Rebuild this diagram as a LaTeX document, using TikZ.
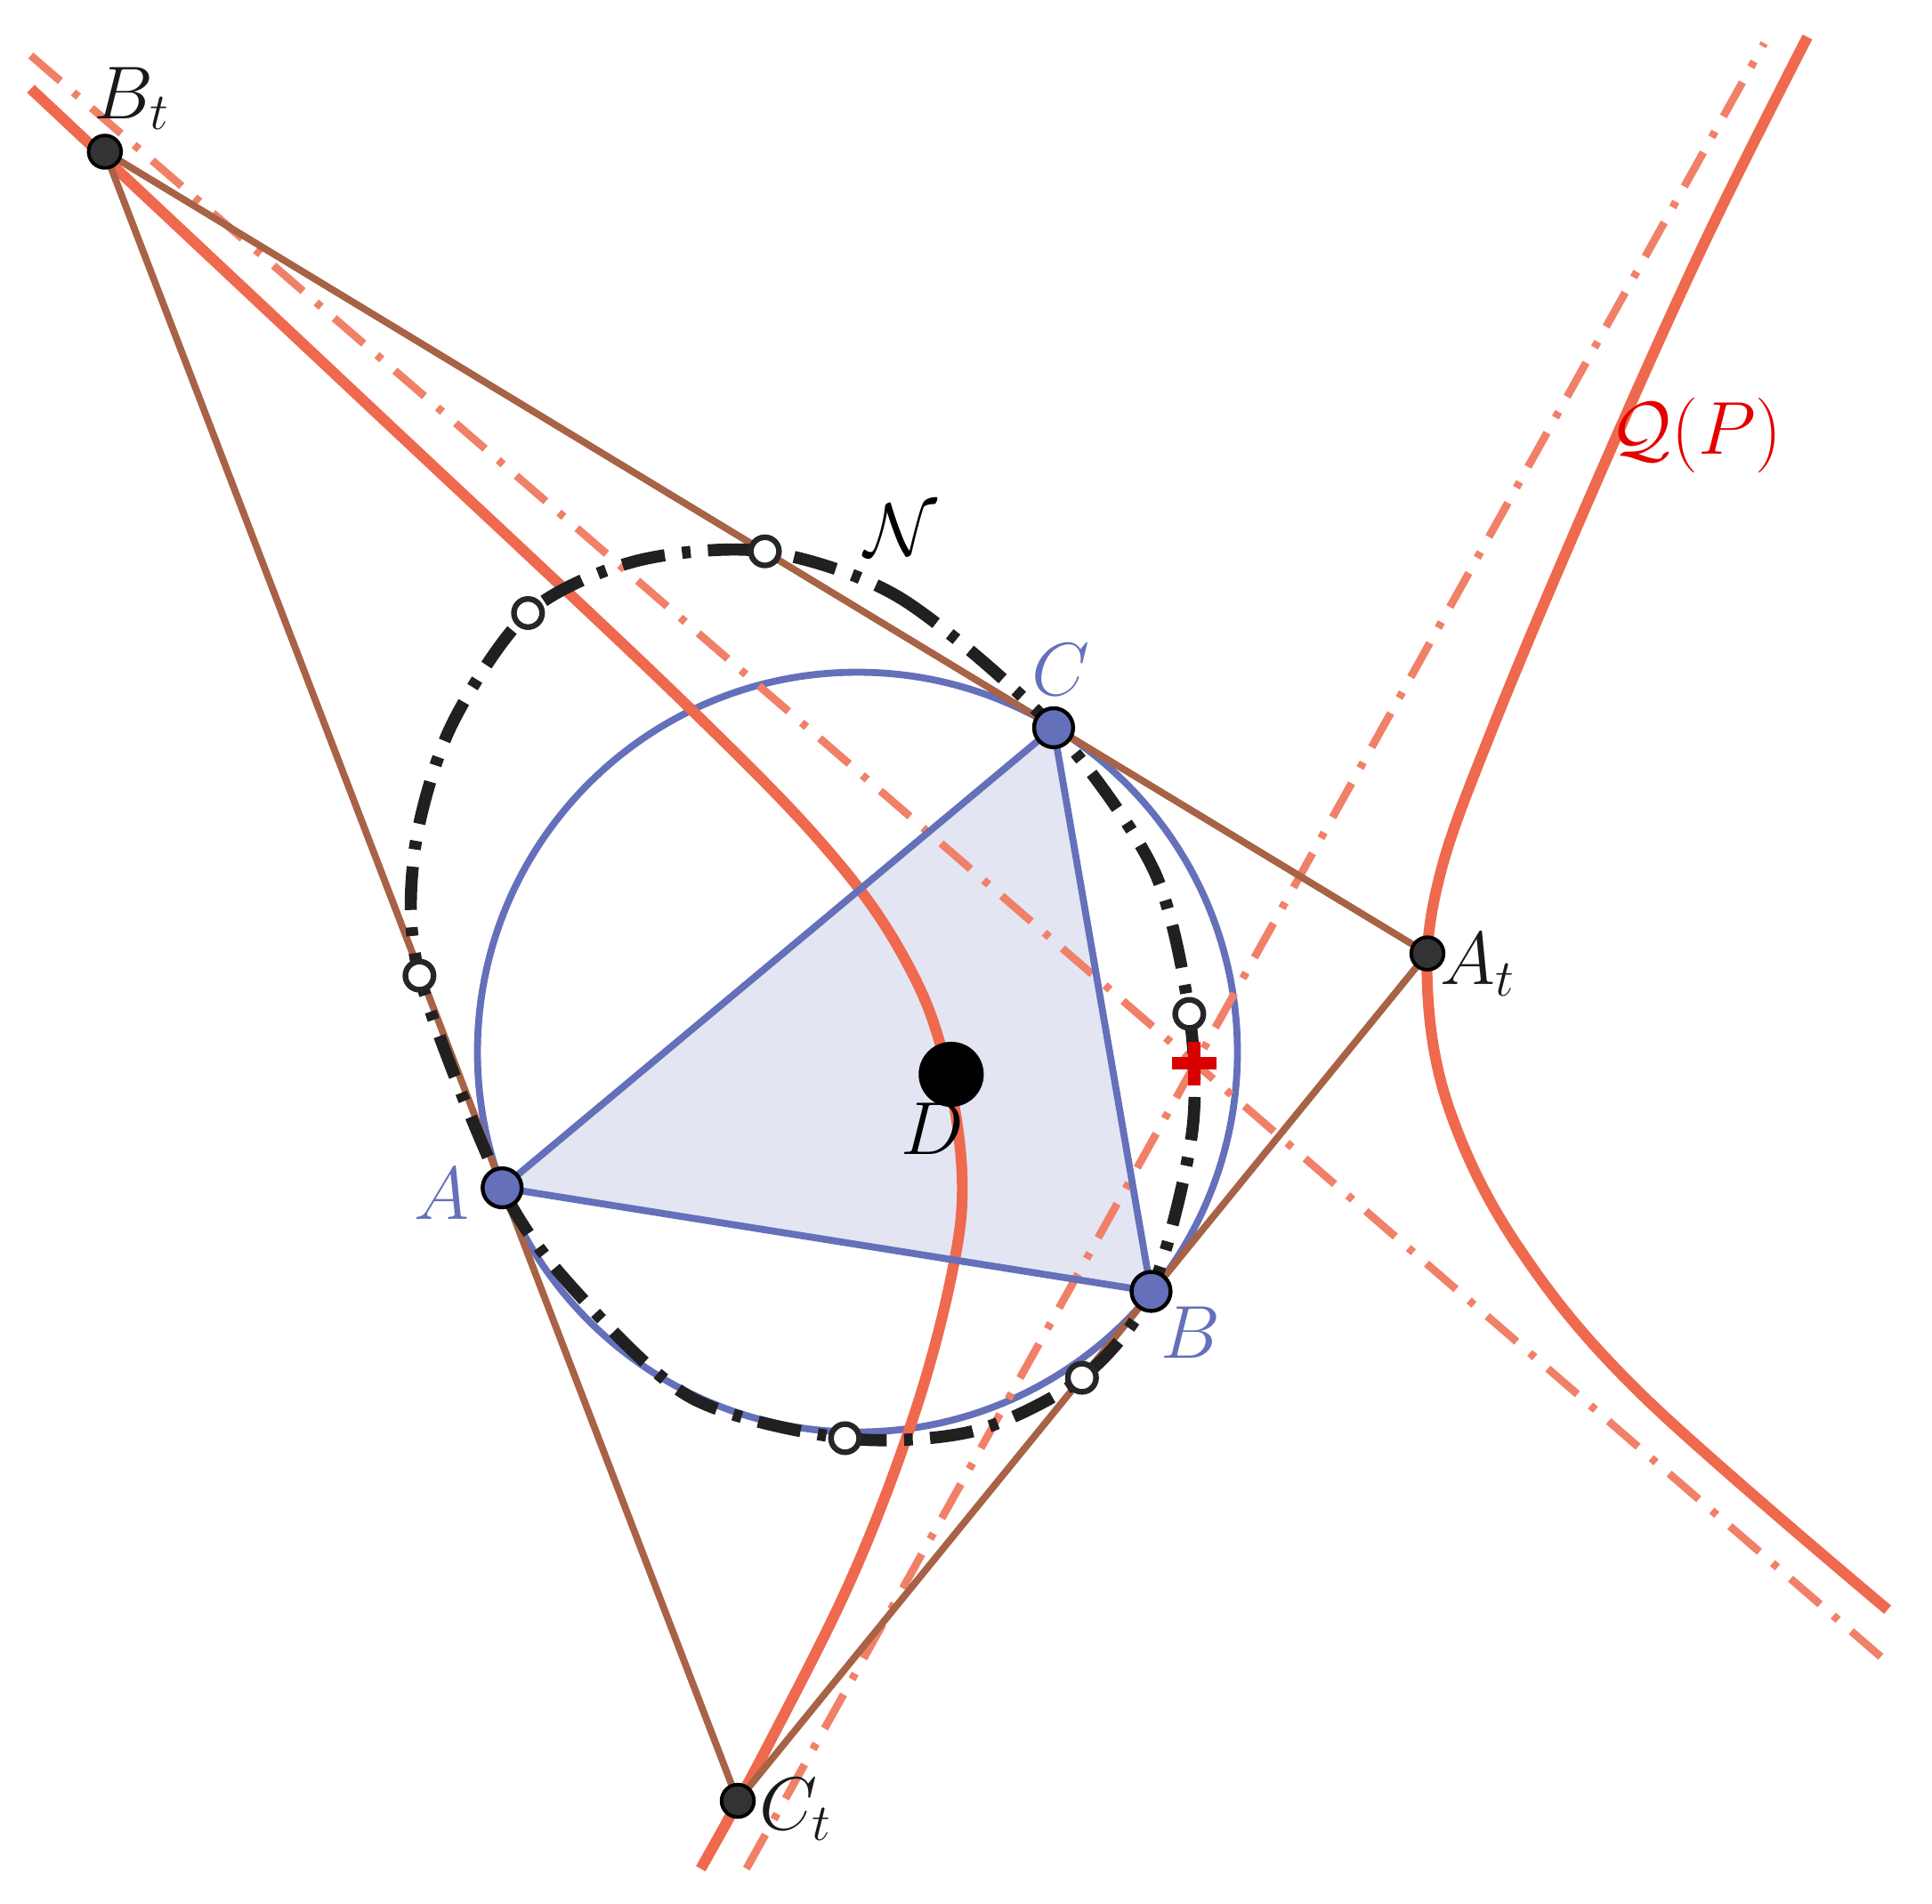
\documentclass[tikz,border=0pt]{standalone}
\usepackage{amsmath,amssymb}
\begin{document}
\begin{tikzpicture}[x=0.01cm,y=-0.01cm,
  bl/.style={draw=blu,line width=1.6pt},
  hyp/.style={draw=org,line width=2.5pt},
  asy/.style={draw=org!85,line width=1.8pt,dash pattern=on 9pt off 4pt on 1.5pt off 4pt},
  br/.style={draw=brn,line width=1.6pt},
  vtx/.style={circle,draw=black,fill=blu,line width=0.9pt,inner sep=0pt,minimum size=9pt},
  tp/.style={circle,draw=black,fill=gray!40!black,line width=0.8pt,inner sep=0pt,minimum size=7.5pt},
  sm/.style={circle,draw=gray!30!black,fill=white,line width=1.3pt,inner sep=0pt,minimum size=6.5pt},
  lab/.style={font=\fontsize{18}{18}\selectfont}]
\definecolor{blu}{RGB}{100,112,185}
\definecolor{org}{RGB}{238,105,78}
\definecolor{brn}{RGB}{168,98,70}
\useasboundingbox (0,0) rectangle (1566,1543);
\coordinate (Bt) at (85,123); \coordinate (At) at (1157,773); \coordinate (Ct) at (598,1460);
\coordinate (A) at (407,963); \coordinate (B) at (933,1047); \coordinate (C) at (854,590);
\fill[blu!18] (A)--(B)--(C)--cycle;
\draw[bl] (695,853) circle (308);
\draw[asy] (25,45) -- (1530,1348);
\draw[asy] (605,1515) -- (1430,35);
\draw[hyp] plot[smooth,tension=0.6] coordinates {(25,72) (300,330) (560,575) (680,700) (740,790) (768,870) (780,960) (770,1040) (740,1150) (690,1280) (620,1420) (568,1515)};
\draw[hyp] plot[smooth,tension=0.6] coordinates {(1465,30) (1380,200) (1290,400) (1210,590) (1167,710) (1157,800) (1175,900) (1230,1010) (1330,1130) (1530,1305)};
\draw[br] (Bt)--(At)--(Ct)--cycle;
\draw[gray!25!black,line width=2.8pt,dash pattern=on 10pt off 4pt on 2pt off 4pt] plot[smooth cycle] coordinates {(620,447) (730,485) (854,590) (935,705) (964,822) (966,920) (933,1047) (877,1117) (790,1160) (685,1166) (560,1133) (465,1045) (407,963) (340,791) (336,690) (365,590) (428,497) (515,455)};
\draw[blu,line width=1.6pt] (A)--(B)--(C)--cycle;
\foreach \p in {(620,447),(428,497),(340,791),(685,1166),(877,1117),(964,822)} \node[sm] at \p {};
\node[vtx] (nA) at (A) {}; \node[vtx] (nB) at (B) {}; \node[vtx] (nC) at (C) {};
\node[tp] (nBt) at (Bt) {}; \node[tp] (nAt) at (At) {}; \node[tp] (nCt) at (Ct) {};
\node[circle,fill=black,inner sep=0pt,minimum size=15pt] (D) at (771,871) {};
\draw[red!85!black,line width=3pt] (950,862)--(986,862) (968,845)--(968,880);
\node[lab,text=blu] at (358,968) {$A$};
\node[lab,text=blu] at (965,1080) {$B$};
\node[lab,text=blu] at (860,543) {$C$};
\node[lab] at (756,915) {$D$};
\node[lab,text=gray!20!black] at (107,80) {$B_t$};
\node[lab,text=gray!20!black] at (1198,782) {$A_t$};
\node[lab,text=gray!20!black] at (645,1467) {$C_t$};
\node[lab] at (730,430) {$\mathcal{N}$};
\node[lab,text=red!90!black] at (1375,353) {$\mathcal{Q}(P)$};
\end{tikzpicture}
\end{document}
